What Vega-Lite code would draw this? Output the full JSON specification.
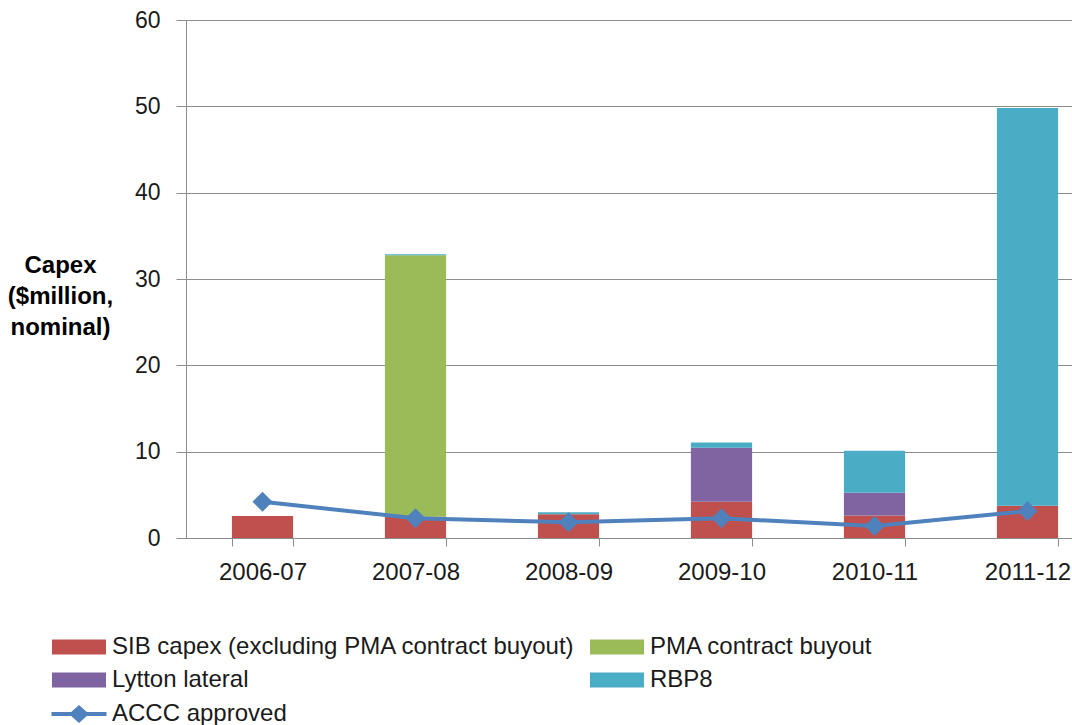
{
  "$schema": "https://vega.github.io/schema/vega-lite/v6.json",
  "autosize": {"type": "none"},
  "padding": {"left": 186, "top": 20, "right": 0, "bottom": 187},
  "width": 886,
  "height": 518,
  "background": "white",
  "config": {
    "view": {"stroke": null},
    "font": "Liberation Sans",
    "axis": {
      "labelFont": "Liberation Sans",
      "titleFont": "Liberation Sans",
      "labelColor": "#1a1a1a",
      "domainColor": "#8c8c8c",
      "tickColor": "#8c8c8c",
      "gridColor": "#8c8c8c",
      "domainWidth": 1,
      "tickWidth": 1,
      "gridWidth": 1
    },
    "legend": {
      "labelFont": "Liberation Sans",
      "labelFontSize": 24,
      "labelColor": "#1a1a1a",
      "labelLimit": 700,
      "padding": 0
    }
  },
  "datasets": {
    "capex": [
      {"year": "2006-07", "series": "SIB capex (excluding PMA contract buyout)", "value": 2.55},
      {"year": "2007-08", "series": "SIB capex (excluding PMA contract buyout)", "value": 2.45},
      {"year": "2007-08", "series": "PMA contract buyout", "value": 30.3},
      {"year": "2007-08", "series": "RBP8", "value": 0.12},
      {"year": "2008-09", "series": "SIB capex (excluding PMA contract buyout)", "value": 2.75},
      {"year": "2008-09", "series": "RBP8", "value": 0.22},
      {"year": "2009-10", "series": "SIB capex (excluding PMA contract buyout)", "value": 4.2},
      {"year": "2009-10", "series": "Lytton lateral", "value": 6.25},
      {"year": "2009-10", "series": "RBP8", "value": 0.6},
      {"year": "2010-11", "series": "SIB capex (excluding PMA contract buyout)", "value": 2.6},
      {"year": "2010-11", "series": "Lytton lateral", "value": 2.65},
      {"year": "2010-11", "series": "RBP8", "value": 4.85},
      {"year": "2011-12", "series": "SIB capex (excluding PMA contract buyout)", "value": 3.75},
      {"year": "2011-12", "series": "RBP8", "value": 46.05}
    ],
    "accc": [
      {"year": "2006-07", "series": "ACCC approved", "value": 4.2},
      {"year": "2007-08", "series": "ACCC approved", "value": 2.28},
      {"year": "2008-09", "series": "ACCC approved", "value": 1.82},
      {"year": "2009-10", "series": "ACCC approved", "value": 2.28},
      {"year": "2010-11", "series": "ACCC approved", "value": 1.39},
      {"year": "2011-12", "series": "ACCC approved", "value": 3.13}
    ]
  },
  "layer": [
    {
      "data": {"name": "capex"},
      "transform": [
        {"calculate": "indexof(['SIB capex (excluding PMA contract buyout)', 'PMA contract buyout', 'Lytton lateral', 'RBP8'], datum.series)", "as": "stackOrder"}
      ],
      "mark": {"type": "bar"},
      "encoding": {
        "x": {
          "field": "year",
          "type": "nominal",
          "sort": null,
          "scale": {"range": [0, 918], "paddingInner": 0.6, "paddingOuter": 0.3},
          "axis": {
            "title": null,
            "labelAngle": 0,
            "labelFontSize": 24,
            "labelPadding": 14,
            "tickSize": 8,
            "tickBand": "extent",
            "grid": false
          }
        },
        "y": {
          "field": "value",
          "type": "quantitative",
          "stack": "zero",
          "scale": {"domain": [0, 60], "nice": false},
          "axis": {
            "values": [0, 10, 20, 30, 40, 50, 60],
            "grid": true,
            "tickSize": 10,
            "labelPadding": 16,
            "labelFontSize": 23,
            "title": ["Capex", "($million,", "nominal)"],
            "titleAngle": 0,
            "titleAlign": "center",
            "titleBaseline": "alphabetic",
            "titleX": -126,
            "titleY": 252,
            "titleFontSize": 24,
            "titleFontWeight": "bold",
            "titleLineHeight": 31,
            "titleColor": "#000000"
          }
        },
        "color": {
          "field": "series",
          "type": "nominal",
          "scale": {
            "domain": ["SIB capex (excluding PMA contract buyout)", "Lytton lateral", "PMA contract buyout", "RBP8"],
            "range": ["#C0504D", "#8064A2", "#9BBB59", "#4BACC6"]
          },
          "legend": {
            "title": null,
            "orient": "none",
            "legendX": -119,
            "legendY": 615,
            "columns": 2,
            "columnPadding": 15,
            "rowPadding": 9,
            "symbolType": "M-2.7,-0.75H2.7V0.75H-2.7Z",
            "symbolSize": 400,
            "symbolStrokeWidth": 0,
            "symbolOpacity": 1,
            "labelOffset": 21
          }
        },
        "order": {"field": "stackOrder", "type": "quantitative"}
      }
    },
    {
      "data": {"name": "accc"},
      "mark": {"type": "line", "strokeWidth": 4},
      "encoding": {
        "x": {"field": "year", "type": "nominal", "sort": null},
        "y": {"field": "value", "type": "quantitative"},
        "stroke": {
          "field": "series",
          "type": "nominal",
          "scale": {"domain": ["ACCC approved"], "range": ["#4F81BD"]},
          "legend": {
            "title": null,
            "orient": "none",
            "legendX": -119,
            "legendY": 682,
            "symbolType": "M-2.75,-0.2H2.75V0.2H-2.75Z M-1,0L0,-0.9L1,0L0,0.9Z",
            "symbolSize": 400,
            "symbolStrokeWidth": 0,
            "symbolFillColor": "#4F81BD",
            "labelOffset": 21,
            "encode": {"symbols": {"update": {"fill": {"value": "#4F81BD"}, "strokeWidth": {"value": 0}}}}
          }
        }
      }
    },
    {
      "data": {"name": "accc"},
      "mark": {"type": "point", "shape": "diamond", "filled": true, "size": 400, "opacity": 1, "color": "#4F81BD"},
      "encoding": {
        "x": {"field": "year", "type": "nominal", "sort": null},
        "y": {"field": "value", "type": "quantitative"}
      }
    }
  ]
}
